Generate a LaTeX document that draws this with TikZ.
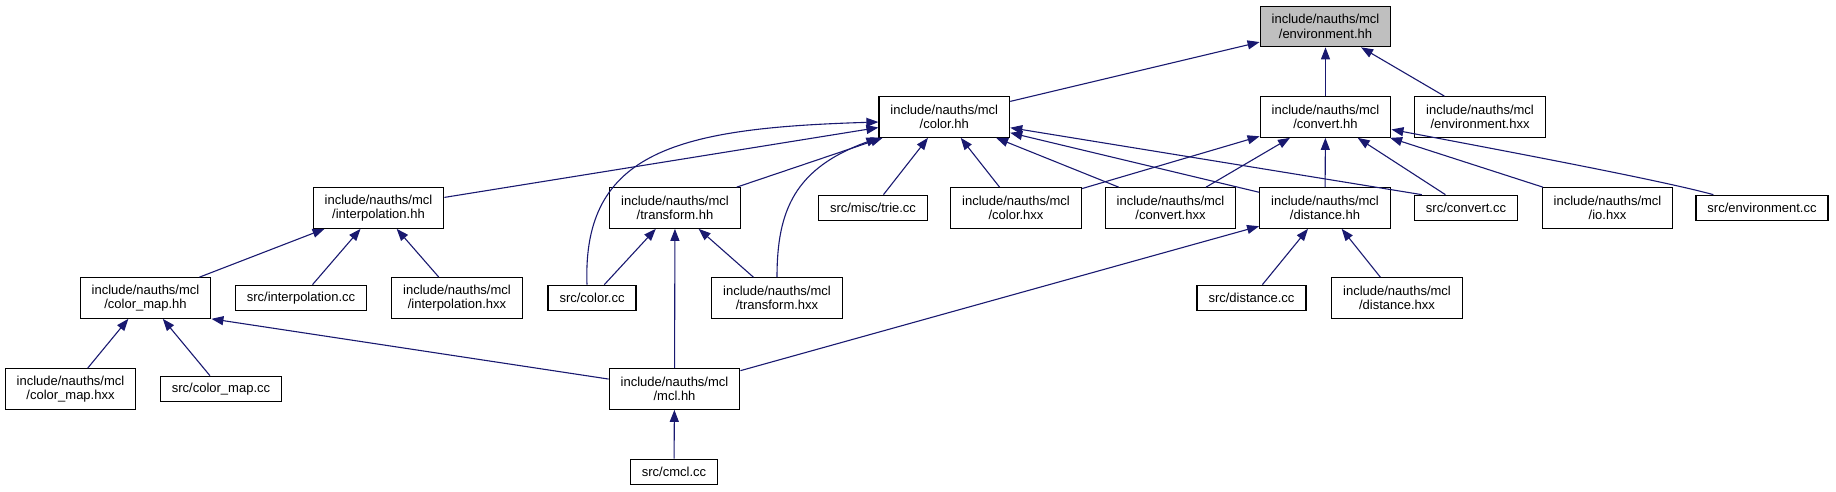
\documentclass[tikz,border=0pt]{standalone}
\usepackage{fontspec}
\setmainfont{Liberation Sans}
\usetikzlibrary{arrows.meta}
\definecolor{edgeblue}{HTML}{191970}
\definecolor{rootgray}{HTML}{BFBFBF}

\begin{document}
\begin{tikzpicture}[x=1pt, y=-1pt,
  hfile/.style={draw=black, fill=white, line width=1.2pt, align=center, inner xsep=11.5pt, inner ysep=0pt, minimum height=40.5pt, font=\fontsize{13}{14.5}\selectfont},
  cfile/.style={hfile, minimum height=25.5pt},
  dep/.style={draw=edgeblue, line width=1.1pt, -{Triangle[length=12pt,width=9pt]}}]
\useasboundingbox (0,0) rectangle (1836,491);

% row 0
\node[hfile, fill=rootgray] (envhh) at (1325.5,26.5) {include/nauths/mcl\\/environment.hh};

% row 1
\node[hfile] (colorhh) at (944.3,117) {include/nauths/mcl\\/color.hh};
\node[hfile] (converthh) at (1325.5,117) {include/nauths/mcl\\/convert.hh};
\node[hfile] (envhxx) at (1480,117) {include/nauths/mcl\\/environment.hxx};

% row 2
\node[hfile] (interphh) at (378.5,208) {include/nauths/mcl\\/interpolation.hh};
\node[hfile] (transformhh) at (675,208) {include/nauths/mcl\\/transform.hh};
\node[cfile] (trie) at (873,208) {src/misc/trie.cc};
\node[hfile] (colorhxx) at (1016,208) {include/nauths/mcl\\/color.hxx};
\node[hfile] (converthxx) at (1170.5,208) {include/nauths/mcl\\/convert.hxx};
\node[hfile] (distancehh) at (1325,208) {include/nauths/mcl\\/distance.hh};
\node[cfile] (convertcc) at (1466,208) {src/convert.cc};
\node[hfile] (iohxx) at (1607.5,208) {include/nauths/mcl\\/io.hxx};
\node[cfile] (envcc) at (1762,208) {src/environment.cc};

% row 3
\node[hfile] (colormaphh) at (145.5,298) {include/nauths/mcl\\/color\_map.hh};
\node[cfile] (interpcc) at (301,298) {src/interpolation.cc};
\node[hfile] (interphxx) at (457,298) {include/nauths/mcl\\/interpolation.hxx};
\node[cfile] (colorcc) at (592,298) {src/color.cc};
\node[hfile] (transformhxx) at (777,298) {include/nauths/mcl\\/transform.hxx};
\node[cfile] (distancecc) at (1251.5,298) {src/distance.cc};
\node[hfile] (distancehxx) at (1397,298) {include/nauths/mcl\\/distance.hxx};

% row 4
\node[hfile] (colormaphxx) at (70.5,389) {include/nauths/mcl\\/color\_map.hxx};
\node[cfile] (colormapcc) at (221,389) {src/color\_map.cc};
\node[hfile] (mclhh) at (674.5,389) {include/nauths/mcl\\/mcl.hh};

% row 5
\node[cfile] (cmcl) at (674,472) {src/cmcl.cc};

% environment.hh
\draw[dep] (colorhh) -- (envhh);
\draw[dep] (converthh) -- (envhh);
\draw[dep] (envhxx) -- (envhh);

% color.hh
\draw[dep] (interphh) -- (colorhh);
\draw[dep] ([xshift=-5pt]colorcc.north) .. controls (582,150) and (680,128) .. ([yshift=-5pt]colorhh.west);
\draw[dep] (transformhh) -- (colorhh);
\draw[dep] (transformhxx.north) .. controls (777,210) and (795,168) .. (colorhh.south west);
\draw[dep] (trie) -- (colorhh);
\draw[dep] (colorhxx) -- (colorhh);
\draw[dep] (converthxx) -- (colorhh);
\draw[dep] (distancehh) -- (colorhh);
\draw[dep] ([xshift=8pt]convertcc.north west) -- (colorhh);

% convert.hh
\draw[dep] (colorhxx) -- (converthh);
\draw[dep] (converthxx) -- (converthh);
\draw[dep] (distancehh) -- (converthh);
\draw[dep] (convertcc) -- (converthh);
\draw[dep] (iohxx) -- (converthh);
\draw[dep] ([xshift=18pt]envcc.north west) .. controls (1660,180) and (1500,150) .. (converthh);

% interpolation.hh
\draw[dep] (colormaphh) -- (interphh);
\draw[dep] (interpcc) -- (interphh);
\draw[dep] (interphxx) -- (interphh);

% transform.hh
\draw[dep] (colorcc) -- (transformhh);
\draw[dep] (mclhh) -- (transformhh);
\draw[dep] (transformhxx) -- (transformhh);

% distance.hh
\draw[dep] (mclhh) -- (distancehh);
\draw[dep] (distancecc) -- (distancehh);
\draw[dep] (distancehxx) -- (distancehh);

% color_map.hh
\draw[dep] (colormaphxx) -- (colormaphh);
\draw[dep] (colormapcc) -- (colormaphh);
\draw[dep] (mclhh) -- (colormaphh.south east);

% mcl.hh
\draw[dep] (cmcl) -- (mclhh);
\end{tikzpicture}
\end{document}
